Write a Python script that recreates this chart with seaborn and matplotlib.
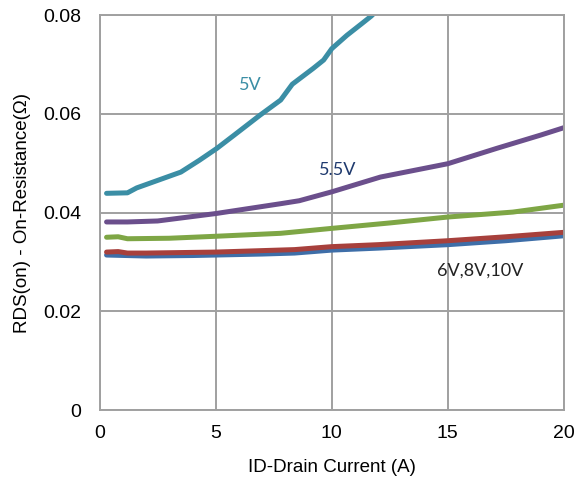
import pandas as pd
import matplotlib
matplotlib.use("Agg")
import matplotlib.pyplot as plt
import seaborn as sns

# curves
x_10v = [0.3, 2, 4, 5, 7, 8.4, 10, 12, 15, 17.5, 20]
y_10v = [0.0314, 0.0312, 0.0313, 0.0314, 0.0316, 0.0318, 0.0324, 0.0328, 0.0335, 0.0343, 0.0353]

x_8v = [0.3, 0.8, 1.2, 2, 5, 8.4, 10, 12, 15, 17.5, 20]
y_8v = [0.0320, 0.0321, 0.0318, 0.0318, 0.0320, 0.0325, 0.0331, 0.0335, 0.0343, 0.0351, 0.0360]

x_6v = [0.3, 0.8, 1.2, 3, 5, 7.8, 10, 12.5, 15, 17.8, 20]
y_6v = [0.0350, 0.0351, 0.0347, 0.0348, 0.0352, 0.0358, 0.0368, 0.0379, 0.0391, 0.0401, 0.0415]

x_55v = [0.3, 1.2, 2.5, 5, 7.8, 8.6, 10, 12.1, 15, 17.1, 19, 20]
y_55v = [0.0381, 0.0381, 0.0383, 0.0398, 0.0418, 0.0424, 0.0442, 0.0472, 0.0499, 0.0530, 0.0557, 0.0572]

x_5v = [0.3, 1.2, 1.6, 3.5, 4.3, 5.05, 5.8, 6.9, 7.8, 8.3, 9.2, 9.65, 10.0, 10.65, 11.3, 11.7, 12.0]
y_5v = [0.0439, 0.0440, 0.0450, 0.0482, 0.0506, 0.0530, 0.0557, 0.0597, 0.0628, 0.0660,
        0.0692, 0.0709, 0.0732, 0.0759, 0.0783, 0.0798, 0.0812]

x_ticks = [0, 5, 10, 15, 20]
y_ticks = [0, 0.02, 0.04, 0.06, 0.08]
y_tick_labels = ["0", "0.02", "0.04", "0.06", "0.08"]

series = [
    (x_10v, y_10v, "#3E6EA8"),
    (x_8v, y_8v, "#A7403C"),
    (x_6v, y_6v, "#7EA645"),
    (x_55v, y_55v, "#6B4F8C"),
    (x_5v, y_5v, "#3B8EA5"),
]

sns.set_style("white")
plt.rcParams['font.family'] = ['Liberation Sans', 'DejaVu Sans']
for k in ['text.color', 'axes.labelcolor', 'xtick.color', 'ytick.color']:
    plt.rcParams[k] = 'black'

fig = plt.figure(figsize=(5.79, 4.87), dpi=100)
ax = fig.add_axes([0.172, 0.158, 0.802, 0.811])

for xs, ys, col in series:
    df = pd.DataFrame({"x": xs, "y": ys})
    sns.lineplot(data=df, x="x", y="y", color=col, linewidth=3.6, ax=ax,
                 solid_capstyle="round", solid_joinstyle="round")

ax.set_xlim(0, 20)
ax.set_ylim(0, 0.08)
ax.set_xticks(x_ticks)
ax.set_xticklabels([str(t) for t in x_ticks])
ax.set_yticks(y_ticks)
ax.set_yticklabels(y_tick_labels)
ax.tick_params(axis="x", length=0, pad=11, labelsize=14)
ax.tick_params(axis="y", length=0, pad=13, labelsize=14)

ax.grid(True, color="#A0A0A0", linewidth=1.4)
ax.set_axisbelow(True)
for s in ax.spines.values():
    s.set_color("#A0A0A0")
    s.set_linewidth(1.4)

ax.set_xlabel("ID-Drain Current (A)", fontsize=13.5, labelpad=12)
ax.set_ylabel("RDS(on) - On-Resistance(Ω)", fontsize=13.5, labelpad=9)

ax.text(6.5, 0.0658, "5V", color="#3B8EA5", fontsize=13, family=["Lato", "DejaVu Sans"],
        ha="center", va="center")
ax.text(10.25, 0.0486, "5.5V", color="#1F3A6E", fontsize=13, family=["Lato", "DejaVu Sans"],
        ha="center", va="center")
ax.text(16.4, 0.0283, "6V,8V,10V", color="#222222", fontsize=13, family=["Lato", "DejaVu Sans"],
        ha="center", va="center")

fig.savefig("out.png", dpi=100)
